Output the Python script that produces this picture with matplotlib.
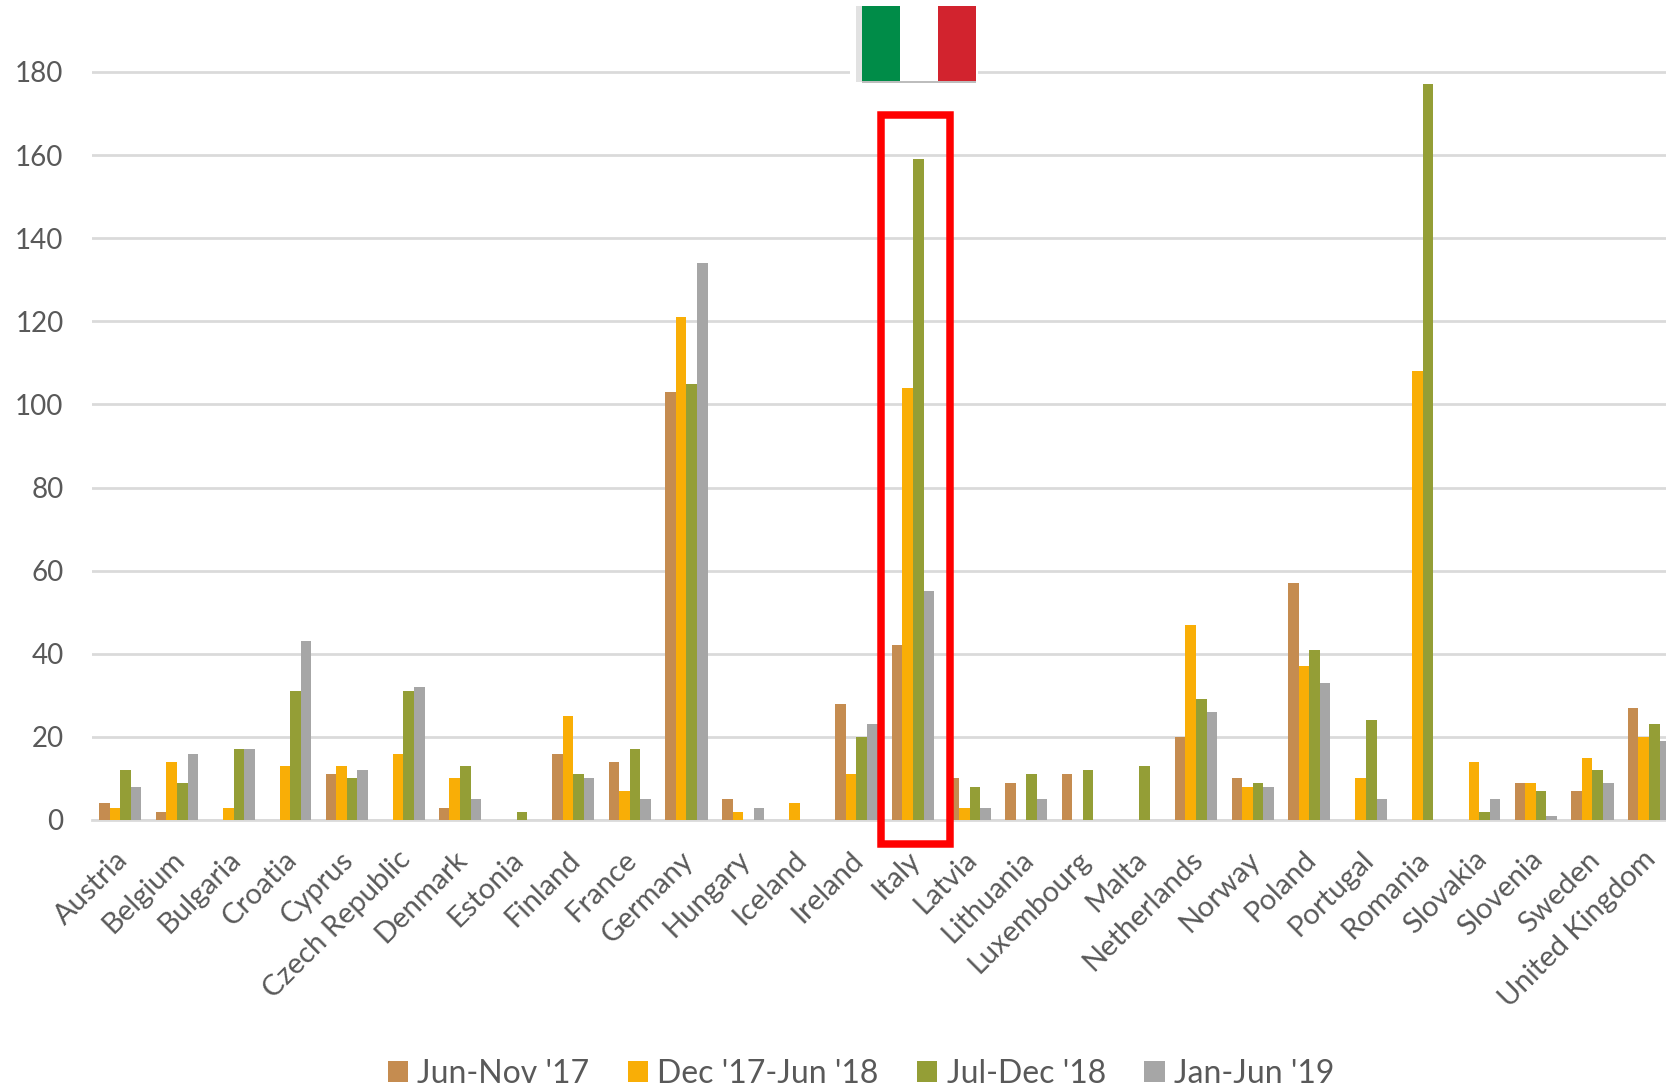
import numpy as np
import matplotlib.pyplot as plt
from matplotlib.patches import Rectangle

countries = ['Austria', 'Belgium', 'Bulgaria', 'Croatia', 'Cyprus', 'Czech Republic', 'Denmark',
             'Estonia', 'Finland', 'France', 'Germany', 'Hungary', 'Iceland', 'Ireland', 'Italy',
             'Latvia', 'Lithuania', 'Luxembourg', 'Malta', 'Netherlands', 'Norway', 'Poland',
             'Portugal', 'Romania', 'Slovakia', 'Slovenia', 'Sweden', 'United Kingdom']

jun_nov_17 = [4, 2, 0, 0, 11, 0, 3, 0, 16, 14, 103, 5, 0, 28, 42, 10, 9, 11, 0, 20, 10, 57, 0, 0, 0, 9, 7, 27]
dec_17_jun_18 = [3, 14, 3, 13, 13, 16, 10, 0, 25, 7, 121, 2, 4, 11, 104, 3, 0, 0, 0, 47, 8, 37, 10, 108, 14, 9, 15, 20]
jul_dec_18 = [12, 9, 17, 31, 10, 31, 13, 2, 11, 17, 105, 0, 0, 20, 159, 8, 11, 12, 13, 29, 9, 41, 24, 177, 2, 7, 12, 23]
jan_jun_19 = [8, 16, 17, 43, 12, 32, 5, 0, 10, 5, 134, 3, 0, 23, 55, 3, 5, 0, 0, 26, 8, 33, 5, 0, 5, 1, 9, 19]

series = [
    ("Jun-Nov '17", jun_nov_17, '#C58C50'),
    ("Dec '17-Jun '18", dec_17_jun_18, '#F9AE06'),
    ("Jul-Dec '18", jul_dec_18, '#949E36'),
    ("Jan-Jun '19", jan_jun_19, '#A6A6A6'),
]

W, H = 1666, 1089
TEXT = '#595959'
plt.rcParams['font.family'] = ['Lato', 'DejaVu Sans']

fig = plt.figure(figsize=(W / 100, H / 100), dpi=100)
ax = fig.add_axes([92 / W, 1 - 820 / H, 1 - 92 / W, 820 / H])

x = np.arange(len(countries))
bar_w = 0.187
for i, (name, values, color) in enumerate(series):
    ax.bar(x + (i - 1.5) * bar_w, values, bar_w, color=color, label=name, zorder=3)

ax.set_xlim(-0.5, 27.3)
ax.set_ylim(0, 197.3)
ax.set_yticks(range(0, 181, 20))
ax.yaxis.grid(True, color='#DADADA', lw=2, zorder=0)
for side in ['top', 'right', 'left']:
    ax.spines[side].set_visible(False)
ax.spines['bottom'].set_color('#DADADA')
ax.spines['bottom'].set_linewidth(2)
ax.tick_params(axis='y', length=0, pad=20.5, labelsize=20, labelcolor=TEXT)
ax.tick_params(axis='x', length=0, pad=19, labelsize=21, labelcolor=TEXT)
ax.set_xticks(x - 0.11)
ax.set_xticklabels(countries, rotation=45, ha='right', rotation_mode='anchor')


def px_rect(x0, y0, x1, y1, **kw):
    # rectangle given in pixels from the top left corner of the figure
    fig.add_artist(Rectangle((x0 / W, 1 - y1 / H), (x1 - x0) / W, (y1 - y0) / H,
                             transform=fig.transFigure, **kw))


# flag above the Italy group, with a white backing that interrupts the gridline
px_rect(850, 4, 978, 86, facecolor='white', edgecolor='none', zorder=5)
px_rect(856, 6, 862, 82, facecolor='#E2E2E2', edgecolor='none', zorder=6)
px_rect(862, 6, 900, 82, facecolor='#008C48', edgecolor='none', zorder=6)
px_rect(938, 6, 976, 82, facecolor='#D2232E', edgecolor='none', zorder=6)
px_rect(862, 81, 976, 82.5, facecolor='#BDBDBD', edgecolor='none', zorder=7)

# red box around Italy
px_rect(881, 115, 950, 844, facecolor='none', edgecolor='#FF0000', lw=5.4, zorder=8)

ax.legend(loc='center', bbox_to_anchor=(861 / W, 1 - 1074 / H), bbox_transform=fig.transFigure,
          ncol=4, frameon=False, fontsize=23, labelcolor=TEXT, handlelength=0.63,
          handleheight=0.63, handletextpad=0.3, columnspacing=1.2, borderaxespad=0, borderpad=0)

fig.savefig('out.png', dpi=100)
plt.close(fig)
